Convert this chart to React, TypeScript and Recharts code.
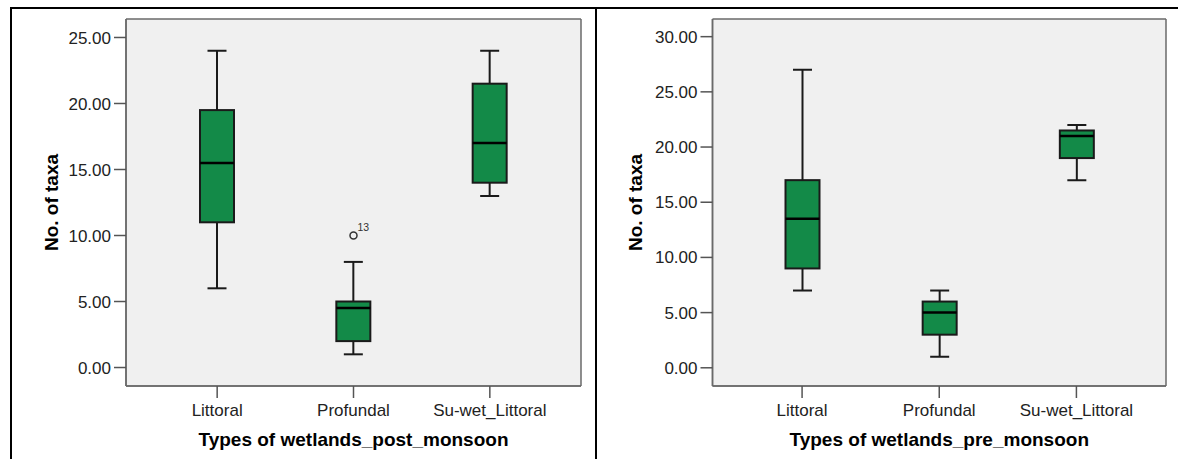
import React from 'react';
import { ComposedChart, Bar, Scatter, XAxis, YAxis, CartesianGrid } from 'recharts';

// Wetland types on the category axis
const categories = ['Littoral', 'Profundal', 'Su-wet_Littoral'];

// Post-monsoon five-number summaries of taxa counts
const postMin = [6, 1, 13];
const postQ1 = [11, 2, 14];
const postMedian = [15.5, 4.5, 17];
const postQ3 = [19.5, 5, 21.5];
const postMax = [24, 8, 24];
const postOutlier: (number | null)[] = [null, 10, null];
const postOutlierCase: (string | null)[] = [null, '13', null];

// Pre-monsoon five-number summaries of taxa counts
const preMin = [7, 1, 17];
const preQ1 = [9, 3, 19];
const preMedian = [13.5, 5, 21];
const preQ3 = [17, 6, 21.5];
const preMax = [27, 7, 22];
const preOutlier: (number | null)[] = [null, null, null];
const preOutlierCase: (string | null)[] = [null, null, null];

const postTicks = [0, 5, 10, 15, 20, 25];
const preTicks = [0, 5, 10, 15, 20, 25, 30];

type Row = {
  type: string;
  min: number;
  q1: number;
  median: number;
  q3: number;
  max: number;
  outlier: number | null;
  caseId: string | null;
};

const buildRows = (
  mins: number[],
  q1s: number[],
  medians: number[],
  q3s: number[],
  maxs: number[],
  outliers: (number | null)[],
  cases: (string | null)[]
): Row[] =>
  categories.map((type, i) => ({
    type,
    min: mins[i],
    q1: q1s[i],
    median: medians[i],
    q3: q3s[i],
    max: maxs[i],
    outlier: outliers[i],
    caseId: cases[i],
  }));

const postRows = buildRows(postMin, postQ1, postMedian, postQ3, postMax, postOutlier, postOutlierCase);
const preRows = buildRows(preMin, preQ1, preMedian, preQ3, preMax, preOutlier, preOutlierCase);

const FONT = '"Liberation Sans", Arial, sans-serif';
const BOX_FILL = '#138a48';
const INK = '#1a1a1a';
const FRAME = '#6a6a6a';

// The range bar spans min..max; the box, whiskers and median are placed
// inside it by interpolating along the bar's own pixel extent.
const BoxWhisker = (props: any) => {
  const { x, y, width, height, payload } = props;
  if (!payload || !isFinite(y) || !isFinite(height)) return <g />;
  const lo = payload.min;
  const hi = payload.max;
  const px = (v: number) => y + (height * (hi - v)) / (hi - lo);
  const cx = x + width / 2;
  const cap = 9.5;
  const yMax = px(hi);
  const yMin = px(lo);
  const yQ1 = px(payload.q1);
  const yQ3 = px(payload.q3);
  const yMed = px(payload.median);
  return (
    <g>
      <line x1={cx} x2={cx} y1={yMax} y2={yQ3} stroke={INK} strokeWidth={2} />
      <line x1={cx} x2={cx} y1={yQ1} y2={yMin} stroke={INK} strokeWidth={2} />
      <line x1={cx - cap} x2={cx + cap} y1={yMax} y2={yMax} stroke={INK} strokeWidth={2} />
      <line x1={cx - cap} x2={cx + cap} y1={yMin} y2={yMin} stroke={INK} strokeWidth={2} />
      <rect
        x={x}
        y={yQ3}
        width={width}
        height={yQ1 - yQ3}
        fill={BOX_FILL}
        stroke={INK}
        strokeWidth={2}
      />
      <line x1={x} x2={x + width} y1={yMed} y2={yMed} stroke="#000" strokeWidth={2.5} />
    </g>
  );
};

const OutlierMark = (props: any) => {
  const { cx, cy, payload } = props;
  if (!payload || payload.outlier == null || !isFinite(cx) || !isFinite(cy)) return <g />;
  return (
    <g>
      <circle cx={cx} cy={cy} r={3.5} fill="none" stroke="#333" strokeWidth={1.5} />
      <text x={cx + 4} y={cy - 5} fontSize={10.5} fontFamily={FONT} fill="#333">
        {payload.caseId}
      </text>
    </g>
  );
};

// Frame lines along the edges of the plot area
const frameRows = ({ offset }: any) => [offset.top, offset.top + offset.height];
const frameCols = ({ offset }: any) => [offset.left, offset.left + offset.width];

type PanelProps = {
  rows: Row[];
  ticks: number[];
  domain: [number, number];
  width: number;
  yAxisWidth: number;
  marginRight: number;
  xPad: number;
  xTitle: string;
  yTitleX: number;
};

const BoxPanel = ({ rows, ticks, domain, width, yAxisWidth, marginRight, xPad, xTitle, yTitleX }: PanelProps) => (
  <ComposedChart
    width={width}
    height={459}
    data={rows}
    margin={{ top: 19, right: marginRight, bottom: 0, left: 0 }}
  >
    <CartesianGrid
      fill="#f0f0f0"
      stroke={FRAME}
      strokeWidth={1.5}
      horizontalCoordinatesGenerator={frameRows}
      verticalCoordinatesGenerator={frameCols}
      syncWithTicks={false}
    />
    <XAxis
      dataKey="type"
      type="category"
      height={73}
      padding={{ left: xPad, right: xPad }}
      tickSize={12}
      tickMargin={6}
      axisLine={{ stroke: FRAME, strokeWidth: 1.5 }}
      tickLine={{ stroke: '#555', strokeWidth: 1.5 }}
      tick={{ fontSize: 17, fontFamily: FONT, fill: '#222' }}
      label={{
        value: xTitle,
        position: 'insideBottom',
        offset: 13,
        style: { fontSize: 19, fontWeight: 'bold', fontFamily: FONT, fill: '#000' },
      }}
    />
    <YAxis
      type="number"
      domain={domain}
      ticks={ticks}
      allowDataOverflow
      width={yAxisWidth}
      tickSize={12}
      tickMargin={3}
      tickFormatter={(v: number) => v.toFixed(2)}
      axisLine={{ stroke: FRAME, strokeWidth: 1.5 }}
      tickLine={{ stroke: '#555', strokeWidth: 1.5 }}
      tick={{ fontSize: 17, fontFamily: FONT, fill: '#222' }}
      label={{
        value: 'No. of taxa',
        angle: -90,
        position: 'insideLeft',
        offset: yTitleX,
        style: { textAnchor: 'middle', fontSize: 19, fontWeight: 'bold', fontFamily: FONT, fill: '#000' },
      }}
    />
    <Bar
      dataKey={(r: Row) => [r.min, r.max]}
      barSize={34}
      shape={<BoxWhisker />}
      isAnimationActive={false}
    />
    <Scatter dataKey="outlier" shape={<OutlierMark />} isAnimationActive={false} />
  </ComposedChart>
);

export default function App() {
  return (
    <div
      style={{
        position: 'absolute',
        left: 0,
        top: 0,
        width: 1178,
        height: 459,
        background: '#fff',
        overflow: 'hidden',
      }}
    >
      {/* table rules around the two panels */}
      <div style={{ position: 'absolute', left: 10, top: 7, width: 1168, height: 2, background: '#000' }} />
      <div style={{ position: 'absolute', left: 10, top: 7, width: 2, height: 452, background: '#000' }} />
      <div style={{ position: 'absolute', left: 595, top: 7, width: 2, height: 452, background: '#000' }} />

      <div style={{ position: 'absolute', left: 0, top: 0 }}>
        <BoxPanel
          rows={postRows}
          ticks={postTicks}
          domain={[-1.4, 26.4]}
          width={595}
          yAxisWidth={126}
          marginRight={14}
          xPad={23}
          xTitle="Types of wetlands_post_monsoon"
          yTitleX={51}
        />
      </div>
      <div style={{ position: 'absolute', left: 597, top: 0 }}>
        <BoxPanel
          rows={preRows}
          ticks={preTicks}
          domain={[-1.65, 31.6]}
          width={581}
          yAxisWidth={115.5}
          marginRight={12}
          xPad={21}
          xTitle="Types of wetlands_pre_monsoon"
          yTitleX={38.5}
        />
      </div>
    </div>
  );
}
